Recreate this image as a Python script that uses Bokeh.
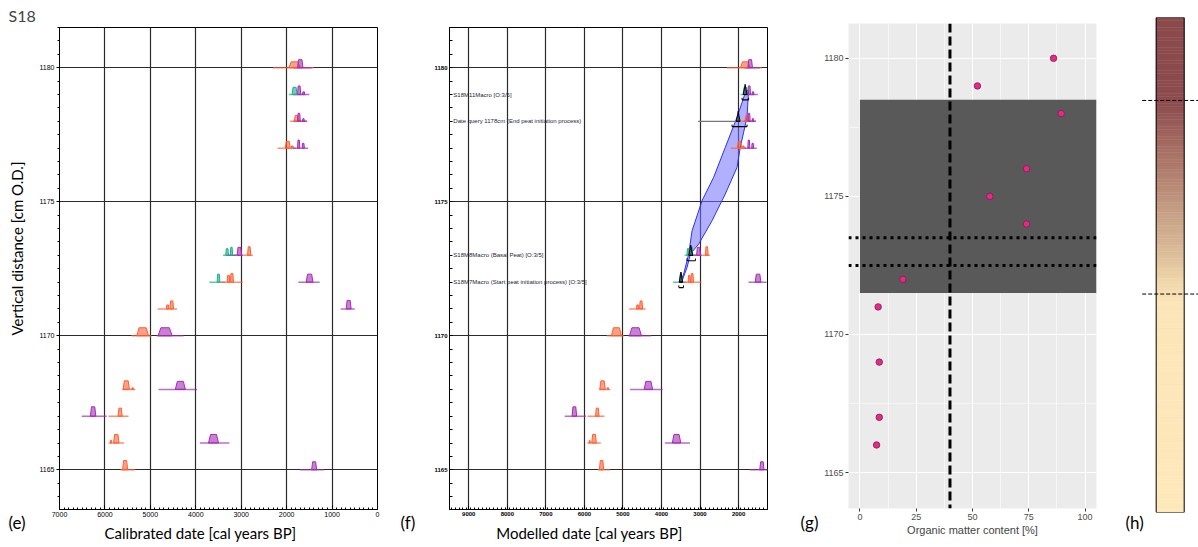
import numpy as np
from bokeh.plotting import figure
from bokeh.layouts import row, column
from bokeh.models import Range1d, FixedTicker, Span
from bokeh.embed import file_html
from bokeh.resources import INLINE
from bokeh.core.properties import value

# ---------------- data ----------------
# Panels (e)/(f): calibrated dates, baseline extent of each distribution (cal years BP)
cal_depth = [1180, 1180, 1179, 1179, 1178, 1178, 1177, 1177,
             1173, 1173, 1173, 1172, 1172, 1172, 1171, 1171,
             1170, 1170, 1168, 1168, 1167, 1167, 1166, 1166, 1165, 1165]
cal_kind = ["o", "p", "t", "p", "o", "p", "o", "p",
            "t", "p", "o", "t", "o", "p", "o", "p",
            "o", "p", "o", "p", "p", "o", "o", "p", "o", "p"]
cal_old = [2300, 1850, 1950, 1850, 1930, 1850, 2200, 1850,
           3400, 3300, 2950, 3700, 3450, 1743, 4840, 810,
           5420, 4860, 5620, 4820, 6510, 5920, 5920, 3910, 5660, 1710]
cal_young = [1400, 1450, 1600, 1500, 1550, 1550, 1800, 1530,
             3100, 2950, 2744, 3350, 2965, 1273, 4412, 500,
             4980, 4270, 5330, 3970, 5960, 5480, 5575, 3260, 5330, 1180]

# probability peaks of the calibrated dates
pk_depth = [1180, 1180, 1179, 1179, 1179, 1178, 1178, 1178, 1177, 1177, 1177, 1177,
            1173, 1173, 1173, 1173, 1172, 1172, 1172, 1172, 1171, 1171, 1171,
            1170, 1170, 1168, 1168, 1168, 1167, 1167, 1166, 1166, 1166, 1165, 1165]
pk_kind = ["o", "p", "t", "p", "p", "o", "p", "p", "o", "o", "p", "p",
           "t", "t", "p", "o", "t", "o", "o", "p", "o", "o", "p",
           "o", "p", "o", "o", "p", "p", "o", "o", "o", "p", "o", "p"]
pk_old = [1950, 1760, 1880, 1760, 1650, 1830, 1760, 1650, 2030, 1900, 1760, 1660,
          3340, 3240, 3090, 2860, 3530, 3310, 3240, 1570, 4650, 4570, 690,
          5300, 4830, 5600, 5410, 4450, 6320, 5710, 5810, 5880, 3720, 5610, 1450]
pk_young = [1700, 1640, 1770, 1690, 1600, 1740, 1700, 1610, 1920, 1850, 1710, 1610,
            3280, 3190, 2990, 2790, 3470, 3250, 3170, 1420, 4590, 4490, 580,
            5040, 4520, 5460, 5370, 4230, 6200, 5620, 5690, 5850, 3500, 5500, 1340]
pk_height = [0.22, 0.30, 0.27, 0.32, 0.10, 0.22, 0.30, 0.10, 0.25, 0.08, 0.30, 0.18,
             0.25, 0.30, 0.30, 0.32, 0.30, 0.25, 0.32, 0.30, 0.15, 0.30, 0.32,
             0.30, 0.30, 0.32, 0.06, 0.30, 0.35, 0.30, 0.32, 0.10, 0.32, 0.35, 0.30]

# Panel (f): modelled dates
mod_depth = [1179, 1178, 1173, 1172]
mod_old = [1880, 2060, 3290, 3540]
mod_young = [1780, 1960, 3190, 3450]
mod_range_old = [1910, 2170, 3340, 3550]
mod_range_young = [1740, 1780, 3120, 3430]
query_depth = 1178
query_old, query_young = 3050, 2000
mod_labels = ["S18M11Macro [O:3/5]",
              "Date query 1178cm (End peat initiation process)",
              "S18M8Macro (Basal Peat) [O:3/5]",
              "S18M7Macro (Start peat initiation process) [O:3/5]"]
# age-depth model envelope (older edge, then younger edge)
env_old_year = [1800, 2041, 2345, 2648, 2948, 3207, 3295, 3425, 3510]
env_old_depth = [1179.17, 1178.15, 1177.03, 1175.91, 1175.04, 1173.92, 1173.05, 1172.30, 1172.05]
env_young_year = [1741, 1782, 1956, 2041, 2345, 2689, 3036, 3251, 3337, 3466]
env_young_depth = [1179.14, 1178.15, 1177.03, 1176.28, 1175.29, 1174.29, 1173.42, 1173.05, 1172.55, 1172.05]

# Panel (g): organic matter content
om_depth = [1180, 1179, 1178, 1176, 1175, 1174, 1172, 1171, 1169, 1167, 1166]
om_value = [86.0, 52.2, 89.4, 74.0, 57.7, 74.0, 19.1, 8.1, 8.6, 8.6, 7.4]
peat_top, peat_bottom = 1178.5, 1171.5
om_threshold = 40
query_lines = [1173.5, 1172.5]

# Panel (h): colour column stops
col_stop_depth = [1163.6, 1171.2, 1172.0, 1173.0, 1174.5, 1176.0, 1177.5, 1178.4, 1181.5]
col_stop_color = ["#FEE8BA", "#FCE5B8", "#EFD5AA", "#DBBC98", "#C69E84",
                  "#B07C6D", "#9C605B", "#8C4C4E", "#8A4A4C"]

depth_ticks = [1165, 1170, 1175, 1180]
e_year_ticks = [0, 1000, 2000, 3000, 4000, 5000, 6000, 7000]
f_year_ticks = [2000, 3000, 4000, 5000, 6000, 7000, 8000, 9000]
om_ticks = [0, 25, 50, 75, 100]
panel_letters = ["(e)", "(f)", "(g)", "(h)"]
e_xlabel = "Calibrated date [cal years BP]"
e_ylabel = "Vertical distance [cm O.D.]"
f_xlabel = "Modelled date [cal years BP]"
g_xlabel = "Organic matter content [%]"

# ---------------- styling helpers ----------------
COL = {"o": "#FF5F33", "p": "#A32CB5", "t": "#1FAF86"}
LABEL_FONT = "Lato"
TICK_FONT = "Liberation Sans"


def hex2rgb(h):
    return np.array([int(h[i:i + 2], 16) for i in (1, 3, 5)], dtype=float)


def make_fig(width, xr, yr, left, right, top, bottom, **kw):
    p = figure(width=width, height=547, x_range=Range1d(*xr), y_range=Range1d(*yr),
               output_backend="svg", toolbar_location=None,
               min_border_left=left, min_border_right=right, min_border_top=top,
               min_border_bottom=bottom, **kw)
    p._geom = (left, width - left - right, top, 547 - top - bottom, xr, yr)
    return p


def margin_text(p, text, sx, sy, size="16px", align="left", angle=0.0):
    """Text placed in the figure margin (overlay level, so not clipped to the frame)."""
    left, fw, top, fh, xr, yr = p._geom
    x = xr[0] + (sx - left) / fw * (xr[1] - xr[0])
    y = yr[1] - (sy - top) / fh * (yr[1] - yr[0])
    p.text(x=[x], y=[y], text=[text], text_font=value(LABEL_FONT), text_font_size=size,
           text_color="black", text_baseline="middle", text_align=align, angle=angle,
           level="overlay")


def date_axes(p, year_ticks, xmin, xmax, tick_size):
    p.outline_line_color = "black"
    p.outline_line_width = 1
    p.xaxis.ticker = FixedTicker(ticks=year_ticks, minor_ticks=list(range(int(xmax), int(xmin) + 1, 100)))
    p.yaxis.ticker = FixedTicker(ticks=depth_ticks, minor_ticks=list(np.arange(1163.5, 1181.6, 0.5)))
    p.xgrid.ticker = FixedTicker(ticks=year_ticks)
    p.ygrid.ticker = FixedTicker(ticks=depth_ticks)
    for g in (p.xgrid, p.ygrid):
        g.grid_line_color = "#2a2a2a"
        g.grid_line_width = 1.2
    for ax in (p.xaxis, p.yaxis):
        ax.major_label_text_font = TICK_FONT
        ax.major_label_text_font_size = tick_size
        ax.major_label_text_color = "black"
        ax.axis_line_color = "black"
        ax.major_tick_line_color = "black"
        ax.minor_tick_line_color = "black"
        ax.major_label_standoff = 2
    p.xaxis.major_tick_in = 4
    p.xaxis.major_tick_out = 0
    p.xaxis.minor_tick_in = 2
    p.xaxis.minor_tick_out = 0
    p.yaxis.major_tick_in = 0
    p.yaxis.major_tick_out = 3
    p.yaxis.minor_tick_in = 0
    p.yaxis.minor_tick_out = 2


def add_dates(p):
    p.segment(x0=cal_old, y0=cal_depth, x1=cal_young, y1=cal_depth,
              line_color=[COL[k] for k in cal_kind], line_width=1.5, line_alpha=0.7)
    xs, ys, cs = [], [], []
    for d, k, o, y, h in zip(pk_depth, pk_kind, pk_old, pk_young, pk_height):
        w = o - y
        xs.append([o, o - 0.2 * w, y + 0.2 * w, y])
        ys.append([d, d + h, d + h, d])
        cs.append(COL[k])
    p.patches(xs, ys, fill_color=cs, fill_alpha=0.6, line_color=cs, line_width=1)


# ---------------- panel (e) ----------------
pe = make_fig(395, (7000, 0), (1163.52, 1181.5), 59, 18, 27, 38)
date_axes(pe, e_year_ticks, 7000, 0, "7px")
pe.title.text = "S18"
pe.title.align = "left"
pe.title.offset = -51
pe.title.standoff = 6
pe.title.text_font = LABEL_FONT
pe.title.text_font_size = "16px"
pe.title.text_font_style = "normal"
add_dates(pe)
margin_text(pe, e_xlabel, 200, 532, size="15px", align="center")
margin_text(pe, e_ylabel, 16, 248, size="15px", align="center", angle=np.pi / 2)
margin_text(pe, panel_letters[0], 8, 522, size="17px")

# ---------------- panel (f) ----------------
f_xmin, f_xmax = 9500, 1250
pf = make_fig(395, (f_xmin, f_xmax), (1163.52, 1181.5), 54, 23, 27, 38)
date_axes(pf, f_year_ticks, f_xmin, f_xmax, "6px")
pf.xaxis.major_label_text_font_style = "bold"
pf.yaxis.major_label_text_font_style = "bold"
pf.yaxis.major_tick_in = 3
pf.yaxis.major_tick_out = 0
pf.yaxis.minor_tick_in = 3
pf.yaxis.minor_tick_out = 0
pf.patch(env_old_year + env_young_year[::-1], env_old_depth + env_young_depth[::-1],
         fill_color="#7070FF", fill_alpha=0.55, line_color="#3030F0", line_width=1)
add_dates(pf)
pf.segment(x0=[query_old], y0=[query_depth], x1=[query_young], y1=[query_depth],
           line_color="#777777", line_width=1.2)
mxs, mys = [], []
for d, o, y in zip(mod_depth, mod_old, mod_young):
    w = o - y
    mxs.append([o, o - 0.35 * w, o - 0.5 * w, y + 0.3 * w, y])
    mys.append([d, d + 0.25, d + 0.38, d + 0.2, d])
pf.patches(mxs, mys, fill_color="#444444", fill_alpha=0.55, line_color="black", line_width=1)
pf.segment(x0=mod_old, y0=mod_depth, x1=mod_young, y1=mod_depth, line_color="black", line_width=1.2)
br_y = [d - 0.2 for d in mod_depth]
pf.segment(x0=mod_range_old, y0=br_y, x1=mod_range_young, y1=br_y, line_color="black", line_width=1.2)
pf.segment(x0=mod_range_old + mod_range_young, y0=br_y + br_y,
           x1=mod_range_old + mod_range_young, y1=[d + 0.08 for d in br_y] * 2,
           line_color="black", line_width=1)
pf.text(x=[f_xmin - 100] * len(mod_depth), y=mod_depth, text=mod_labels,
        text_font=value(TICK_FONT), text_font_size="6px", text_color="#1c1c40",
        text_baseline="middle", text_align="left")
margin_text(pf, f_xlabel, 194, 532, size="15px", align="center")
margin_text(pf, panel_letters[1], 5, 522, size="17px")

# ---------------- panel (g) ----------------
pg = make_fig(320, (-5.07, 105.07), (1163.70, 1181.26), 58, 14, 23, 39)
pg.background_fill_color = "#EBEBEB"
pg.outline_line_color = None
pg.xaxis.ticker = FixedTicker(ticks=om_ticks)
pg.yaxis.ticker = FixedTicker(ticks=depth_ticks)
pg.xgrid.ticker = FixedTicker(ticks=om_ticks, minor_ticks=[12.5, 37.5, 62.5, 87.5])
pg.ygrid.ticker = FixedTicker(ticks=depth_ticks, minor_ticks=[1167.5, 1172.5, 1177.5])
for g in (pg.xgrid, pg.ygrid):
    g.grid_line_color = "white"
    g.grid_line_width = 1.1
    g.minor_grid_line_color = "white"
    g.minor_grid_line_width = 0.55
for ax in (pg.xaxis, pg.yaxis):
    ax.axis_line_color = None
    ax.major_tick_line_color = "#333333"
    ax.major_tick_in = 0
    ax.major_tick_out = 3
    ax.minor_tick_line_color = None
    ax.major_label_text_font = TICK_FONT
    ax.major_label_text_font_size = "9px"
    ax.major_label_text_color = "#4D4D4D"
    ax.major_label_standoff = 2
pg.xaxis.axis_label = g_xlabel
pg.xaxis.axis_label_text_font = TICK_FONT
pg.xaxis.axis_label_text_font_style = "normal"
pg.xaxis.axis_label_text_font_size = "11px"
pg.xaxis.axis_label_standoff = 1
pg.quad(left=0, right=105.07, bottom=peat_bottom, top=peat_top, fill_color="#595959", line_color=None)
pg.add_layout(Span(location=om_threshold, dimension="height", line_color="black",
                   line_width=3, line_dash="9 4"))
for q in query_lines:
    pg.add_layout(Span(location=q, dimension="width", line_color="black",
                       line_width=3, line_dash="3 4"))
pg.scatter(om_value, om_depth, size=6.5, fill_color="#E7298A", line_color="#7A1F4A", line_width=0.8)
margin_text(pg, panel_letters[2], 10, 522, size="17px")

# ---------------- panel (h) ----------------
ph = make_fig(88, (-1.275, 1.511), (1163.6, 1181.5), 10, 0, 17, 35,
              x_axis_location=None, y_axis_location=None)
ph.outline_line_color = None
ph.xgrid.visible = False
ph.ygrid.visible = False
nbin = 150
edges = np.linspace(col_stop_depth[0], col_stop_depth[-1], nbin + 1)
mids = 0.5 * (edges[:-1] + edges[1:])
rgb = np.array([hex2rgb(c) for c in col_stop_color])
cols = []
for m in mids:
    r = [np.interp(m, col_stop_depth, rgb[:, i]) for i in range(3)]
    cols.append("#%02x%02x%02x" % tuple(int(round(v)) for v in r))
ph.quad(left=0, right=1, bottom=edges[:-1], top=edges[1:], fill_color=cols, line_color=cols, line_width=0.5)
ph.quad(left=0, right=1, bottom=col_stop_depth[0], top=col_stop_depth[-1],
        fill_color=None, line_color="black", line_width=1)
ph.segment(x0=[-0.5, -0.5], y0=[peat_top, peat_bottom], x1=[1.511, 1.511], y1=[peat_top, peat_bottom],
           line_color="black", line_width=1, line_dash="4 2")
margin_text(ph, panel_letters[3], 15, 522, size="17px")

layout = row(pe, pf, column(pg), column(ph))
open("out.html", "w").write(file_html(layout, INLINE))
